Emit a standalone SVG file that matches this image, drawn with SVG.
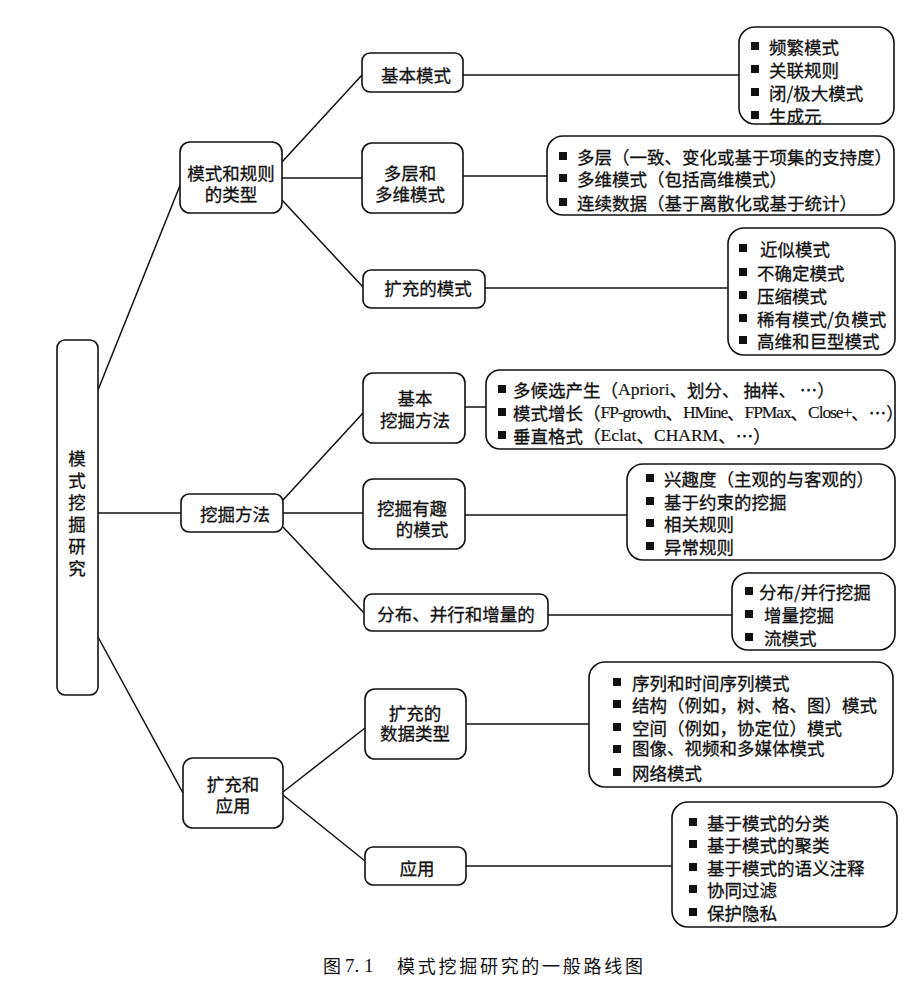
<svg xmlns="http://www.w3.org/2000/svg" xmlns:xlink="http://www.w3.org/1999/xlink" width="918" height="986" viewBox="0 0 918 986">
<style>
.box{fill:#fff;stroke:#111;stroke-width:1.6}
.ln{stroke:#111;stroke-width:1.5;fill:none}
text{font-family:"Noto Sans CJK SC","Liberation Sans",sans-serif;fill:#111;dominant-baseline:central}
.n{font-size:17.5px;text-anchor:middle;stroke:#111;stroke-width:0.3}
.i{font-size:17.5px;stroke:#111;stroke-width:0.3}
.lat{font-family:"Liberation Serif","Noto Sans CJK SC",serif;stroke-width:0.15}
.cnd{letter-spacing:-1.1px}
.cap{font-size:18px}
</style>
<defs>
<rect id="b" x="-4" y="-4" width="8" height="8" fill="#111"/>
</defs>
<rect width="918" height="986" fill="#fff"/>
<g id="connectors">
<line class="ln" x1="98" y1="390" x2="181" y2="183"/>
<line class="ln" x1="98" y1="513" x2="181" y2="513"/>
<line class="ln" x1="98" y1="637" x2="183" y2="793"/>
<line class="ln" x1="282" y1="162" x2="362" y2="75"/>
<line class="ln" x1="282" y1="178" x2="362" y2="178"/>
<line class="ln" x1="282" y1="200" x2="363" y2="287"/>
<line class="ln" x1="463" y1="75" x2="739" y2="75"/>
<line class="ln" x1="463" y1="176" x2="547" y2="176"/>
<line class="ln" x1="485" y1="288" x2="728" y2="288"/>
<line class="ln" x1="283" y1="500" x2="363" y2="413"/>
<line class="ln" x1="283" y1="513" x2="363" y2="513"/>
<line class="ln" x1="283" y1="527" x2="364" y2="613"/>
<line class="ln" x1="465" y1="407" x2="486" y2="407"/>
<line class="ln" x1="465" y1="515" x2="627" y2="515"/>
<line class="ln" x1="548" y1="615" x2="732" y2="615"/>
<line class="ln" x1="283" y1="792" x2="365" y2="728"/>
<line class="ln" x1="283" y1="795" x2="365" y2="861"/>
<line class="ln" x1="466" y1="724" x2="589" y2="724"/>
<line class="ln" x1="466" y1="866" x2="672" y2="866"/>
</g>
<g id="root">
<rect class="box" x="57" y="340" width="41" height="355" rx="8"/>
<text class="n" x="77" y="457">模</text>
<text class="n" x="77" y="479">式</text>
<text class="n" x="77" y="501">挖</text>
<text class="n" x="77" y="523">掘</text>
<text class="n" x="77" y="545">研</text>
<text class="n" x="77" y="567">究</text>
</g>
<g id="types">
<rect class="box" x="180" y="142" width="102" height="71" rx="10"/>
<text class="n" x="231" y="172">模式和规则</text>
<text class="n" x="231" y="193">的类型</text>
</g>
<g id="methods">
<rect class="box" x="181" y="494" width="102" height="38" rx="8"/>
<text class="n" x="235" y="513">挖掘方法</text>
</g>
<g id="ext-app">
<rect class="box" x="183" y="758" width="100" height="70" rx="10"/>
<text class="n" x="233" y="783">扩充和</text>
<text class="n" x="233" y="804">应用</text>
</g>
<g id="basic-patterns">
<rect class="box" x="362" y="53" width="101" height="39" rx="8"/>
<text class="n" x="416" y="74">基本模式</text>
</g>
<g id="multi-level">
<rect class="box" x="362" y="143" width="101" height="70" rx="10"/>
<text class="n" x="410" y="172">多层和</text>
<text class="n" x="410" y="193">多维模式</text>
</g>
<g id="ext-patterns">
<rect class="box" x="363" y="270" width="122" height="38" rx="8"/>
<text class="n" x="428" y="287">扩充的模式</text>
</g>
<g id="leaf-basic">
<rect class="box" x="739" y="27" width="155" height="97" rx="16"/>
<use xlink:href="#b" x="755" y="46"/><text class="i" x="769" y="46">频繁模式</text>
<use xlink:href="#b" x="755" y="69"/><text class="i" x="769" y="69">关联规则</text>
<use xlink:href="#b" x="755" y="92"/><text class="i" x="769" y="92">闭/极大模式</text>
<use xlink:href="#b" x="755" y="115"/><text class="i" x="769" y="115">生成元</text>
</g>
<g id="leaf-multi">
<rect class="box" x="547" y="136" width="347" height="79" rx="16"/>
<use xlink:href="#b" x="563" y="156"/><text class="i" x="577" y="156">多层（一致、变化或基于项集的支持度）</text>
<use xlink:href="#b" x="563" y="178"/><text class="i" x="577" y="178">多维模式（包括高维模式）</text>
<use xlink:href="#b" x="563" y="202"/><text class="i" x="577" y="202">连续数据（基于离散化或基于统计）</text>
</g>
<g id="leaf-ext">
<rect class="box" x="728" y="228" width="167" height="127" rx="16"/>
<use xlink:href="#b" x="743" y="248"/><text class="i" x="760" y="248">近似模式</text>
<use xlink:href="#b" x="743" y="272"/><text class="i" x="757" y="272">不确定模式</text>
<use xlink:href="#b" x="743" y="295"/><text class="i" x="757" y="295">压缩模式</text>
<use xlink:href="#b" x="743" y="318"/><text class="i" x="757" y="318">稀有模式/负模式</text>
<use xlink:href="#b" x="743" y="340"/><text class="i" x="757" y="340">高维和巨型模式</text>
</g>
<g id="basic-mining">
<rect class="box" x="363" y="373" width="102" height="70" rx="10"/>
<text class="n" x="415" y="397">基本</text>
<text class="n" x="415" y="419">挖掘方法</text>
</g>
<g id="interesting">
<rect class="box" x="363" y="479" width="102" height="70" rx="10"/>
<text class="n" x="412" y="507">挖掘有趣</text>
<text class="n" x="422" y="528">的模式</text>
</g>
<g id="distributed">
<rect class="box" x="364" y="594" width="184" height="37" rx="8"/>
<text class="n" x="456" y="613">分布、并行和增量的</text>
</g>
<g id="leaf-basic-mining">
<rect class="box" x="486" y="370" width="409" height="79" rx="14"/>
<use xlink:href="#b" x="502" y="389"/><text class="i" x="513" y="389">多候选产生（<tspan class="lat">Apriori</tspan>、划分、 抽样、 …）</text>
<use xlink:href="#b" x="502" y="412"/><text class="i" x="513" y="412">模式增长（<tspan class="lat cnd">FP-growth</tspan>、<tspan class="lat cnd">HMine</tspan>、<tspan class="lat cnd">FPMax</tspan>、<tspan class="lat cnd">Close+</tspan>、…）</text>
<use xlink:href="#b" x="502" y="435"/><text class="i" x="513" y="435">垂直格式（<tspan class="lat">Eclat</tspan>、<tspan class="lat">CHARM</tspan>、…）</text>
</g>
<g id="leaf-interesting">
<rect class="box" x="627" y="464" width="268" height="96" rx="16"/>
<use xlink:href="#b" x="650" y="478"/><text class="i" x="664" y="478">兴趣度（主观的与客观的）</text>
<use xlink:href="#b" x="650" y="501"/><text class="i" x="664" y="501">基于约束的挖掘</text>
<use xlink:href="#b" x="650" y="523"/><text class="i" x="664" y="523">相关规则</text>
<use xlink:href="#b" x="650" y="546"/><text class="i" x="664" y="546">异常规则</text>
</g>
<g id="leaf-distributed">
<rect class="box" x="732" y="573" width="163" height="77" rx="16"/>
<use xlink:href="#b" x="749" y="591"/><text class="i" x="759" y="591">分布/并行挖掘</text>
<use xlink:href="#b" x="749" y="614"/><text class="i" x="764" y="614">增量挖掘</text>
<use xlink:href="#b" x="749" y="637"/><text class="i" x="764" y="637">流模式</text>
</g>
<g id="ext-data">
<rect class="box" x="365" y="689" width="101" height="70" rx="10"/>
<text class="n" x="415" y="712">扩充的</text>
<text class="n" x="415" y="732">数据类型</text>
</g>
<g id="applications">
<rect class="box" x="365" y="847" width="101" height="38" rx="8"/>
<text class="n" x="417" y="867">应用</text>
</g>
<g id="leaf-ext-data">
<rect class="box" x="589" y="662" width="304" height="125" rx="16"/>
<use xlink:href="#b" x="617" y="682"/><text class="i" x="632" y="682">序列和时间序列模式</text>
<use xlink:href="#b" x="617" y="704"/><text class="i" x="632" y="704">结构（例如，树、格、图）模式</text>
<use xlink:href="#b" x="617" y="727"/><text class="i" x="632" y="727">空间（例如，协定位）模式</text>
<use xlink:href="#b" x="617" y="749"/><text class="i" x="632" y="747">图像、视频和多媒体模式</text>
<use xlink:href="#b" x="617" y="772"/><text class="i" x="632" y="772">网络模式</text>
</g>
<g id="leaf-app">
<rect class="box" x="672" y="802" width="225" height="125" rx="16"/>
<use xlink:href="#b" x="693" y="822"/><text class="i" x="707" y="822">基于模式的分类</text>
<use xlink:href="#b" x="693" y="844"/><text class="i" x="707" y="844">基于模式的聚类</text>
<use xlink:href="#b" x="693" y="867"/><text class="i" x="707" y="867">基于模式的语义注释</text>
<use xlink:href="#b" x="693" y="889"/><text class="i" x="707" y="889">协同过滤</text>
<use xlink:href="#b" x="693" y="912"/><text class="i" x="707" y="912">保护隐私</text>
</g>
<g id="caption">
<text class="cap" x="323" y="965">图 <tspan font-family="Liberation Serif, serif" font-size="19">7. 1</tspan></text>
<text class="cap" x="397" y="965" textLength="246" lengthAdjust="spacing">模式挖掘研究的一般路线图</text>
</g>
</svg>
